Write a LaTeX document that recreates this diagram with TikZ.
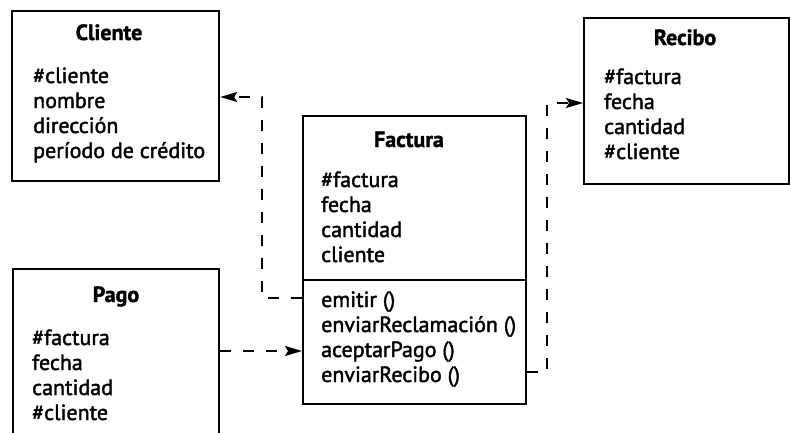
\documentclass[tikz,border=0pt]{standalone}
\usepackage{fontspec}
\setmainfont{PT Sans}[BoldFeatures={FakeBold=1.5}]
\newfontfamily\umlfont{PT Sans}[FakeBold=1.8]
\usepackage{tikz}
\usetikzlibrary{positioning}
\usetikzlibrary{calc,arrows.meta}

\begin{document}
\begin{tikzpicture}[x=1pt,y=-1pt,>={Stealth[length=17pt,width=10pt,inset=3pt]},
  classbox/.style={draw,line width=2.2pt,anchor=north west,inner sep=0pt},
  title/.style={anchor=base,inner sep=0pt,font=\fontsize{22}{24}\selectfont\bfseries},
  attrs/.style={anchor=base west,align=left,inner sep=0pt,font=\fontsize{22}{25}\umlfont},
  dep/.style={->,dash pattern=on 11pt off 12pt,line width=1.3pt}]
\useasboundingbox (0,0) rectangle (790,432);
\clip (0,0) rectangle (790,432);
% boxes
\node[classbox,minimum width=207pt,minimum height=170pt] at (11,10) (cliente) {};
\node[classbox,minimum width=206pt,minimum height=200pt] at (12,268) (pago) {};
\node[classbox,minimum width=223pt,minimum height=288pt] at (302,115) (factura) {};
\node[classbox,minimum width=205pt,minimum height=166pt] at (583,17) (recibo) {};
\draw[line width=1.6pt] (factura.west |- 0,280) -- (factura.east |- 0,280);
% titles
\node[title] at (109,40) (clientetitle) {Cliente};
\node[title] at (116,302) (pagotitle) {Pago};
\node[title] at (409,147) (facturatitle) {Factura};
\node[title] at (685,45) (recibotitle) {Recibo};
% attributes and operations (anchored on the last line)
\node[attrs] at (33,158) (clienteattrs) {\#cliente\\nombre\\dirección\\período de crédito};
\node[attrs] at (32,420) (pagoattrs) {\#factura\\fecha\\cantidad\\\#cliente};
\node[attrs] at (321,262) (facturaattrs) {\#factura\\fecha\\cantidad\\cliente};
\node[attrs] at (321,382) (facturaops) {emitir ()\\enviarReclamación ()\\aceptarPago ()\\enviarRecibo ()};
\node[attrs] at (604,159) (reciboattrs) {\#factura\\fecha\\cantidad\\\#cliente};
% dependencies
\coordinate (bendA) at (262,298);
\coordinate (bendB) at (262,97);
\coordinate (bendC) at (547,372);
\coordinate (bendD) at (547,103);
\draw[dep] (factura.west |- bendA) -- (bendA) -- (bendB) -- (cliente.east |- bendB);
\draw[dep] (pago.east |- 0,351) -- (factura.west |- 0,351);
\draw[dep] (factura.east |- bendC) -- (bendC) -- (bendD) -- (recibo.west |- bendD);
\end{tikzpicture}
\end{document}
